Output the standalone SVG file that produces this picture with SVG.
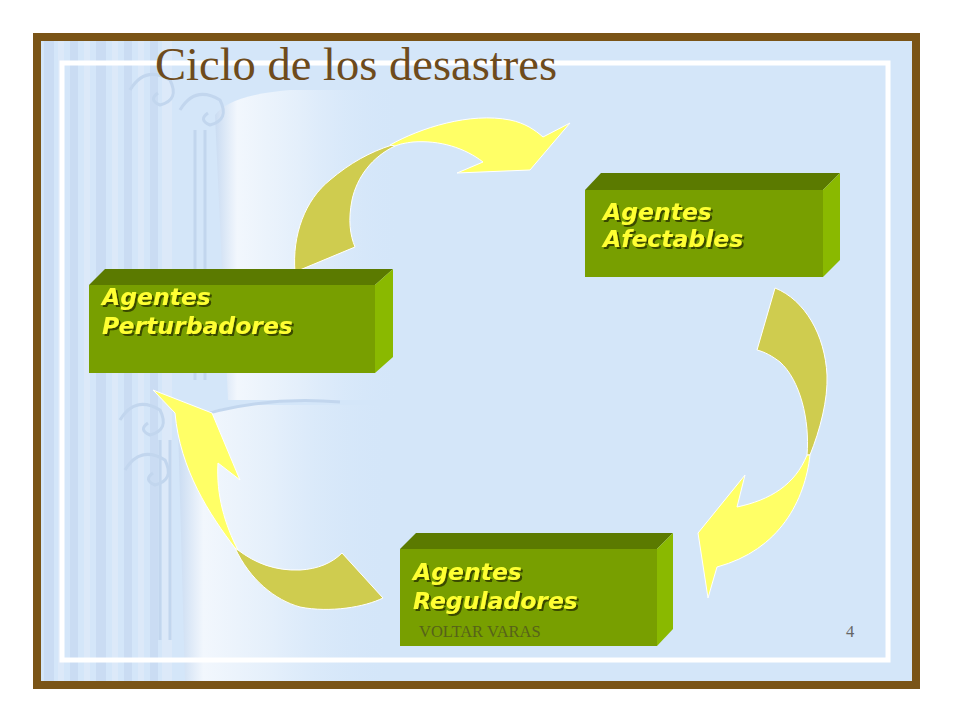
<svg xmlns="http://www.w3.org/2000/svg" width="960" height="720" viewBox="0 0 960 720">
  <defs>
    <linearGradient id="shaft" x1="0" y1="0" x2="1" y2="0">
      <stop offset="0" stop-color="#cadcf2"/>
      <stop offset="0.12" stop-color="#f2f7fd"/>
      <stop offset="0.45" stop-color="#e4effb"/>
      <stop offset="1" stop-color="#d4e6f9" stop-opacity="0"/>
    </linearGradient>
    <filter id="shadow" x="-5%" y="-20%" width="115%" height="150%">
      <feDropShadow dx="2" dy="2" stdDeviation="0.4" flood-color="#2f3a00" flood-opacity="0.85"/>
    </filter>
    <style>
      .front { fill: #789f00; }
      .top { fill: #5b7a00; }
      .side { fill: #8ab900; }
      .lbl { font-family: "DejaVu Sans", Verdana, sans-serif; font-weight: bold; font-style: italic; font-size: 23.5px; fill: #ffff33; filter: url(#shadow); }
      .back { fill: #cfcc4f; stroke: #ffffff; stroke-width: 1; }
      .fore { fill: #ffff66; stroke: #ffffff; stroke-width: 1; }
      .orn { fill: none; stroke: #c2d6ee; stroke-width: 3; }
      .foot { font-family: "Liberation Serif", "Times New Roman", serif; font-size: 16.5px; }
    </style>
  </defs>

  <!-- page -->
  <rect x="0" y="0" width="960" height="720" fill="#ffffff"/>
  <rect x="37" y="37" width="879" height="648" fill="#d4e6f9" stroke="#7a5417" stroke-width="8"/>

  <!-- background columns -->
  <g id="background">
    <g fill="#cadcf3">
      <rect x="44" y="41" width="10" height="640"/>
      <rect x="70" y="41" width="8" height="640"/>
      <rect x="96" y="41" width="10" height="640"/>
      <rect x="124" y="41" width="8" height="640"/>
      <rect x="150" y="41" width="8" height="640"/>
    </g>
    <g fill="#dce9f9">
      <rect x="58" y="41" width="6" height="640"/>
      <rect x="84" y="41" width="6" height="640"/>
      <rect x="112" y="41" width="6" height="640"/>
      <rect x="138" y="41" width="6" height="640"/>
      <rect x="162" y="41" width="10" height="640"/>
    </g>
    <path d="M215,115 Q230,95 290,90 L400,90 L400,400 L228,400 Z" fill="url(#shaft)"/>
    <path d="M178,425 Q195,410 250,405 L390,405 L390,681 L185,681 Z" fill="url(#shaft)"/>
    <path class="orn" d="M130,90 q15,-25 40,-10 q10,20 -10,25 q-12,-5 -2,-12"/>
    <path class="orn" d="M180,110 q15,-25 40,-10 q10,20 -10,25 q-12,-5 -2,-12"/>
    <path class="orn" d="M120,420 q15,-25 40,-10 q10,20 -10,25 q-12,-5 -2,-12"/>
    <path class="orn" d="M125,470 q15,-25 40,-10 q10,20 -10,25 q-12,-5 -2,-12"/>
    <path class="orn" d="M195,130 L195,380 M205,130 L205,380 M160,440 L160,640 M170,440 L170,640"/>
    <path class="orn" d="M185,420 Q260,395 340,402"/>
  </g>

  <!-- inner white frame -->
  <rect x="62" y="63" width="826" height="597" fill="none" stroke="#ffffff" stroke-width="5"/>

  <!-- title -->
  <text x="155" y="80" font-family="'Liberation Serif', 'Times New Roman', serif" font-size="46" fill="#6e4b1c" textLength="402" lengthAdjust="spacingAndGlyphs">Ciclo de los desastres</text>

  <!-- connectors -->
  <g id="connectors">
    <g id="arrow-top">
      <path class="back" d="M295,272 C292,235 305,200 330,180 C350,163 370,152 392,145 L395,146 C372,157 357,177 352,200 C348,220 350,235 355,247 Z"/>
      <path class="fore" d="M390,145 C420,128 470,112 510,120 C525,123 535,130 543,137 L570,123 L530,170 L457,173 L483,162 C465,148 440,140 413,142 C405,143 400,144 395,146 Z"/>
    </g>
    <g id="arrow-right">
      <path class="back" d="M775,288 C805,300 825,335 827,375 C828,400 820,430 810,455 L807,455 C810,420 800,380 780,362 C772,356 765,352 757,350 Z"/>
      <path class="fore" d="M810,455 C805,500 780,550 717,567 L708,598 L698,533 L745,475 L737,507 C770,500 795,485 807,455 Z"/>
    </g>
    <g id="arrow-left">
      <path class="back" d="M342,553 L383,598 C365,607 330,613 300,607 C275,600 250,580 235,548 L238,550 C255,563 275,571 300,570 C318,569 332,563 342,553 Z"/>
      <path class="fore" d="M235,548 C210,515 180,470 175,413 L153,390 L212,413 L240,480 L218,463 C216,495 225,525 238,550 Z"/>
    </g>
  </g>

  <!-- nodes -->
  <g id="node-afectables">
    <polygon class="top" points="585,190 601,173 840,173 823,190"/>
    <polygon class="side" points="823,190 840,173 840,260 823,277"/>
    <rect class="front" x="585" y="190" width="238" height="87"/>
    <text class="lbl" x="603" y="220">Agentes</text>
    <text class="lbl" x="603" y="247">Afectables</text>
  </g>

  <g id="node-perturbadores">
    <polygon class="top" points="89,285 105,269 393,269 375,285"/>
    <polygon class="side" points="375,285 393,269 393,357 375,373"/>
    <rect class="front" x="89" y="285" width="286" height="88"/>
    <text class="lbl" x="102" y="305">Agentes</text>
    <text class="lbl" x="102" y="334">Perturbadores</text>
  </g>

  <g id="node-reguladores">
    <polygon class="top" points="400,549 416,533 673,533 657,549"/>
    <polygon class="side" points="657,549 673,533 673,629 657,646"/>
    <rect class="front" x="400" y="549" width="257" height="97"/>
    <text class="lbl" x="413" y="580">Agentes</text>
    <text class="lbl" x="413" y="609">Reguladores</text>
  </g>

  <!-- footer -->
  <text class="foot" x="419" y="637" fill="#56621a">VOLTAR VARAS</text>
  <text class="foot" x="846" y="637" fill="#666666">4</text>
</svg>
